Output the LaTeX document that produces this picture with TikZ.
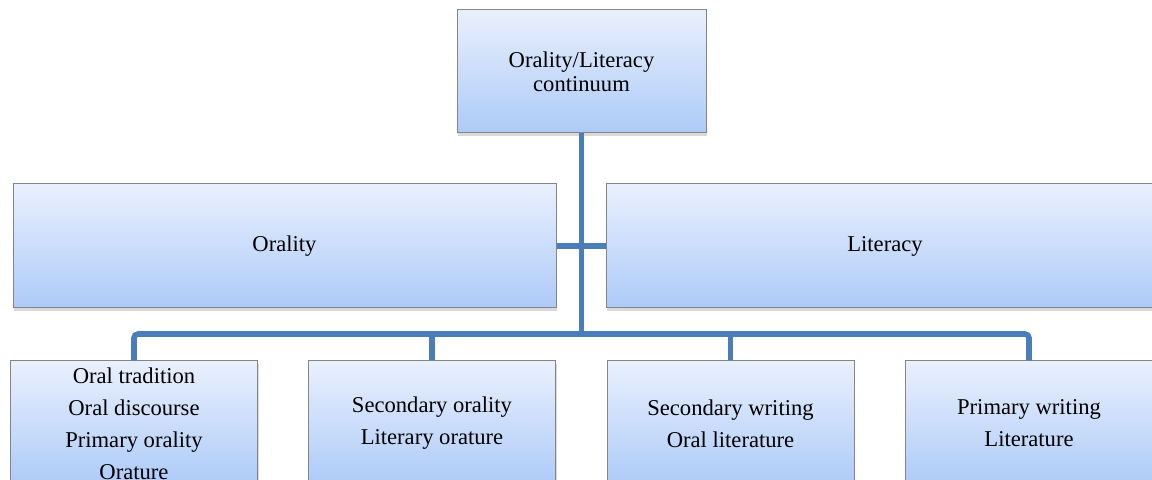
\documentclass[tikz,border=0pt]{standalone}
\usepackage{fontspec}
\setmainfont{Liberation Serif}
\usetikzlibrary{shadows}

\definecolor{linkblue}{HTML}{4A7EBB}
\definecolor{boxtop}{HTML}{E9F0FD}
\definecolor{boxbot}{HTML}{ADCAF8}
\definecolor{boxedge}{HTML}{858585}

\begin{document}
\begin{tikzpicture}[x=0.5pt, y=-0.5pt,
	box/.style={draw=boxedge, line width=0.5pt, top color=boxtop, bottom color=boxbot, inner sep=0pt, align=center,
		drop shadow={shadow xshift=0.6pt, shadow yshift=-1.6pt, opacity=0.3}},
	tall/.style={font=\fontsize{11.3}{12}\selectfont},
	wide/.style={font=\fontsize{11.3}{16}\selectfont},
	link/.style={draw=linkblue, line width=2.8pt}]

\useasboundingbox (0, 0) rectangle (1152, 480);
\clip (0, 0) rectangle (1152, 480);

\node[box, tall, minimum width=124.5pt, minimum height=61.5pt] (top) at (581.5, 71.5) {Orality/Literacy\\continuum};

\node[box, tall, minimum width=271.5pt, minimum height=62pt] (oral) at (284.5, 246) {Orality};
\node[box, tall, minimum width=279pt, minimum height=62pt] (lit) at (885, 246) {Literacy};

\node[box, wide, minimum width=123.5pt, minimum height=62.5pt] (b1) at (134, 423.5) {Oral tradition\\Oral discourse\\Primary orality\\Orature};
\node[box, wide, minimum width=123.5pt, minimum height=62.5pt] (b2) at (432, 423.5) {Secondary orality\\Literary orature};
\node[box, wide, minimum width=123.5pt, minimum height=62.5pt] (b3) at (730.5, 423.5) {Secondary writing\\Oral literature};
\node[box, wide, minimum width=123.5pt, minimum height=62.5pt] (b4) at (1029, 423.5) {Primary writing\\Literature};

\coordinate (bus) at (581.5, 334);

\draw[link] (top.south) -- (bus);
\draw[link] (oral.east) -- (lit.west);
\draw[link, rounded corners=2pt] (b1.north) |- (bus) -| (b4.north);
\draw[link] (b2.north |- bus) -- (b2.north);
\draw[link] (b3.north |- bus) -- (b3.north);

\end{tikzpicture}
\end{document}
